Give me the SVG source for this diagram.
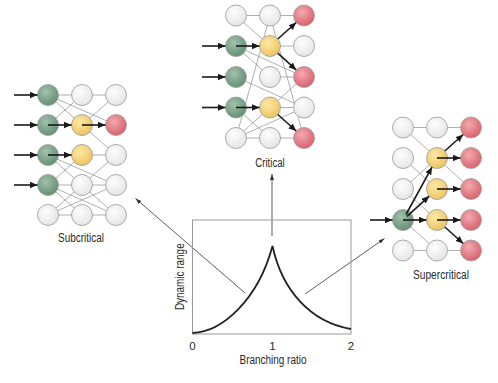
<svg xmlns="http://www.w3.org/2000/svg" width="498" height="383" viewBox="0 0 498 383">
<style>
.n{stroke:#a3a3a3;stroke-width:0.9}
.w{fill:url(#gw)}.g{fill:url(#gg)}.y{fill:url(#gy)}.r{fill:url(#gr)}
.e{stroke:#858585;stroke-width:0.65;fill:none}
.a{stroke:#1a1a1a;stroke-width:1.6;fill:none;marker-end:url(#ah)}
.p{stroke:#333;stroke-width:0.8;fill:none;marker-end:url(#ap)}
text{font-family:"Liberation Sans",Arial,sans-serif;fill:#2a2a2a;font-size:12px}
.t{font-size:11.5px}
</style>
<defs>
<radialGradient id="gw" cx="40%" cy="35%" r="70%"><stop offset="0" stop-color="#fdfdfd"/><stop offset="1" stop-color="#e4e4e4"/></radialGradient>
<radialGradient id="gg" cx="40%" cy="35%" r="70%"><stop offset="0" stop-color="#a3c1ac"/><stop offset="1" stop-color="#5f8d70"/></radialGradient>
<radialGradient id="gy" cx="40%" cy="35%" r="70%"><stop offset="0" stop-color="#fde9a8"/><stop offset="1" stop-color="#ecc15a"/></radialGradient>
<radialGradient id="gr" cx="40%" cy="35%" r="70%"><stop offset="0" stop-color="#f3aab0"/><stop offset="1" stop-color="#d65d68"/></radialGradient>
<marker id="ah" markerUnits="userSpaceOnUse" markerWidth="8" markerHeight="7" refX="7.5" refY="3.25" orient="auto"><path d="M0,0 L7.5,3.25 L0,6.5 z" fill="#1a1a1a"/></marker>
<marker id="ap" markerUnits="userSpaceOnUse" markerWidth="7" markerHeight="5" refX="6" refY="2" orient="auto"><path d="M0,0 L6,2 L0,4 z" fill="#333"/></marker>
</defs>

<g id="edges">
<path class="e" d="M48,95H116 M48,95L116,125 M48,95L82,125 M48,125L82,95 M82,125L116,95 M82,125L116,155 M82,155H116 M48,155L116,185 M48,155L82,185 M48,185L82,155 M82,185L116,155 M48,185H116 M48,185L116,215 M48,185L82,215 M48,215L82,185 M48,215L116,185 M48,215H116 M82,185L116,215"/>
<path class="e" d="M236,15.5H304 M236,15.5L270,46 M270,46H304 M236,46L304,77 M236,46L270,77 M270,15.5L236,138 M270,15.5L304,138 M270,77H304 M236,77L304,107.5 M304,77L270,107.5 M270,107.5H304 M236,138L270,107.5 M236,138L304,107.5 M236,138H304 M236,107.5L270,138"/>
<path class="e" d="M403,127.5H471 M403,127.5L437,158 M437,158L471,189 M403,189L437,158 M403,158L437,189 M403,189L437,220 M403,220L437,250.5 M403,250.5H471"/>
</g>

<g id="subcritical">
<circle class="n g" cx="48" cy="95" r="10.5"/><circle class="n w" cx="82" cy="95" r="10.5"/><circle class="n w" cx="116" cy="95" r="10.5"/>
<circle class="n g" cx="48" cy="125" r="10.5"/><circle class="n y" cx="82" cy="125" r="10.5"/><circle class="n r" cx="116" cy="125" r="10.5"/>
<circle class="n g" cx="48" cy="155" r="10.5"/><circle class="n y" cx="82" cy="155" r="10.5"/><circle class="n w" cx="116" cy="155" r="10.5"/>
<circle class="n g" cx="48" cy="185" r="10.5"/><circle class="n w" cx="82" cy="185" r="10.5"/><circle class="n w" cx="116" cy="185" r="10.5"/>
<circle class="n w" cx="48" cy="215" r="10.5"/><circle class="n w" cx="82" cy="215" r="10.5"/><circle class="n w" cx="116" cy="215" r="10.5"/>
<text x="81" y="241.5" text-anchor="middle" textLength="46" lengthAdjust="spacingAndGlyphs">Subcritical</text>
</g>

<g id="critical">
<circle class="n w" cx="236" cy="15.5" r="10.5"/><circle class="n w" cx="270" cy="15.5" r="10.5"/><circle class="n r" cx="304" cy="15.5" r="10.5"/>
<circle class="n g" cx="236" cy="46" r="10.5"/><circle class="n y" cx="270" cy="46" r="10.5"/><circle class="n w" cx="304" cy="46" r="10.5"/>
<circle class="n g" cx="236" cy="77" r="10.5"/><circle class="n w" cx="270" cy="77" r="10.5"/><circle class="n r" cx="304" cy="77" r="10.5"/>
<circle class="n g" cx="236" cy="107.5" r="10.5"/><circle class="n y" cx="270" cy="107.5" r="10.5"/><circle class="n w" cx="304" cy="107.5" r="10.5"/>
<circle class="n w" cx="236" cy="138" r="10.5"/><circle class="n w" cx="270" cy="138" r="10.5"/><circle class="n r" cx="304" cy="138" r="10.5"/>
<text x="270" y="167" text-anchor="middle" textLength="29.5" lengthAdjust="spacingAndGlyphs">Critical</text>
</g>

<g id="supercritical">
<circle class="n w" cx="403" cy="127.5" r="10.5"/><circle class="n w" cx="437" cy="127.5" r="10.5"/><circle class="n r" cx="471" cy="127.5" r="10.5"/>
<circle class="n w" cx="403" cy="158" r="10.5"/><circle class="n y" cx="437" cy="158" r="10.5"/><circle class="n r" cx="471" cy="158" r="10.5"/>
<circle class="n w" cx="403" cy="189" r="10.5"/><circle class="n y" cx="437" cy="189" r="10.5"/><circle class="n r" cx="471" cy="189" r="10.5"/>
<circle class="n g" cx="403" cy="220" r="10.5"/><circle class="n y" cx="437" cy="220" r="10.5"/><circle class="n r" cx="471" cy="220" r="10.5"/>
<circle class="n w" cx="403" cy="250.5" r="10.5"/><circle class="n w" cx="437" cy="250.5" r="10.5"/><circle class="n r" cx="471" cy="250.5" r="10.5"/>
<text x="441" y="278.5" text-anchor="middle" textLength="56" lengthAdjust="spacingAndGlyphs">Supercritical</text>
</g>

<g id="arrows">
<path class="a" d="M14,95H37.5"/><path class="a" d="M14,125H37.5"/><path class="a" d="M14,155H37.5"/><path class="a" d="M14,185H37.5"/>
<path class="a" d="M48,125H71.5"/><path class="a" d="M82,125H105.5"/><path class="a" d="M48,155H71.5"/>
<path class="a" d="M202,46H225.5"/><path class="a" d="M202,77H225.5"/><path class="a" d="M202,107.5H225.5"/>
<path class="a" d="M236,46H259.5"/><path class="a" d="M277.8,39L296.2,22.5"/><path class="a" d="M277.8,53.1L296.2,69.9"/>
<path class="a" d="M236,107.5H259.5"/><path class="a" d="M277.8,114.5L296.2,131"/>
<path class="a" d="M370,220H392.5"/>
<path class="a" d="M406,214.5L432,167.2"/><path class="a" d="M407,216.3L429.2,196.1"/><path class="a" d="M403,220H426.5"/>
<path class="a" d="M444.8,151L463.2,134.5"/><path class="a" d="M437,158H460.5"/><path class="a" d="M437,189H460.5"/><path class="a" d="M437,220H460.5"/><path class="a" d="M444.8,227L463.2,243.5"/>
</g>

<g id="pointers">
<path class="p" d="M245,293L135.5,198.5"/>
<path class="p" d="M272,236V174"/>
<path class="p" d="M305,294L384.5,238.5"/>
</g>

<g id="chart">
<rect x="192.5" y="220" width="158.5" height="114" fill="none" stroke="#9a9a9a" stroke-width="1"/>
<path d="M192.5,333 C222,332 258,300 272.5,246 C282,290 310,322 351,329" fill="none" stroke="#222" stroke-width="1.8"/>
<text class="t" x="192.5" y="350" text-anchor="middle">0</text>
<text class="t" x="272.5" y="350" text-anchor="middle">1</text>
<text class="t" x="351" y="350" text-anchor="middle">2</text>
<text x="273" y="363.5" text-anchor="middle" textLength="67" lengthAdjust="spacingAndGlyphs">Branching ratio</text>
<text transform="translate(183.5,276.7) rotate(-90)" text-anchor="middle" textLength="66.7" lengthAdjust="spacingAndGlyphs">Dynamic range</text>
</g>
</svg>
